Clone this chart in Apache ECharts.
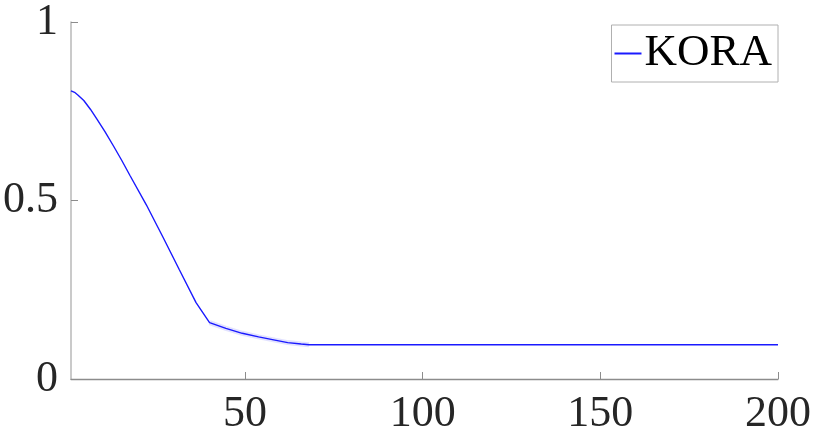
<!DOCTYPE html>
<html>
<head>
<meta charset="utf-8">
<script src="https://cdn.jsdelivr.net/npm/echarts@6/dist/echarts.min.js"></script>
<style>
  html, body { margin: 0; padding: 0; background: #fff; }
  #main { width: 814px; height: 436px; }
</style>
</head>
<body>
<div id="main"></div>
<script>
// values
const xVals = [1, 2, 3, 4.6, 6.5, 8.3, 10.6, 13, 15.3, 17.6, 22.2, 26.9, 31.5, 36.2, 40, 44.6, 49.2, 53.8, 58.4, 62, 65.8, 68, 77, 100, 150, 200];
const kora = [0.807, 0.803, 0.795, 0.780, 0.755, 0.728, 0.692, 0.652, 0.612, 0.570, 0.488, 0.397, 0.306, 0.214, 0.158, 0.142, 0.128, 0.118, 0.109, 0.102, 0.098, 0.096, 0.096, 0.096, 0.096, 0.096];
// faint spread band around the curve, only visible between 40 and 68
const bandX = [40, 44.6, 49.2, 53.8, 58.4, 62, 65.8, 68];
const bandY = [0.158, 0.142, 0.128, 0.118, 0.109, 0.102, 0.098, 0.096];

const xTicks = [50, 100, 150, 200];

const font = "'Liberation Serif', 'DejaVu Serif', serif";

const chart = echarts.init(document.getElementById("main"));

const option = {
  animation: false,
  grid: { left: 67, right: 31, top: 19.5, bottom: 51, containLabel: false },
  legend: {
    data: ["KORA"],
    right: 36,
    top: 25,
    padding: [6, 6, 6, 3],
    itemGap: 0,
    itemWidth: 27,
    itemHeight: 2,
    icon: "rect",
    borderColor: "#b0b0b0",
    borderWidth: 1,
    textStyle: { fontFamily: font, fontSize: 45, color: "#000", padding: [0, 0, 0, -2] }
  },
  xAxis: {
    type: "value",
    min: 1,
    max: 200,
    splitLine: { show: false },
    axisLine: { lineStyle: { color: "#8c8c8c", width: 1.3 } },
    axisTick: { inside: true, length: 7, customValues: xTicks, lineStyle: { color: "#8c8c8c" } },
    axisLabel: {
      customValues: xTicks,
      fontFamily: font, fontSize: 44, color: "#262626", margin: 13
    }
  },
  yAxis: {
    type: "value",
    min: 0,
    max: 1,
    interval: 0.5,
    splitLine: { show: false },
    axisLine: { show: true, lineStyle: { color: "#b8b8b8", width: 1.5 } },
    axisTick: { inside: true, length: 7, lineStyle: { color: "#8c8c8c" } },
    axisLabel: {
      fontFamily: font, fontSize: 44, color: "#262626", margin: 13,
      formatter: v => String(v)
    }
  },
  series: [
    {
      name: "band",
      type: "line",
      data: bandX.map((x, i) => [x, bandY[i]]),
      symbol: "none",
      silent: true,
      lineStyle: { color: "rgba(140,140,255,0.25)", width: 5 },
      z: 1
    },
    {
      name: "KORA",
      type: "line",
      data: xVals.map((x, i) => [x, kora[i]]),
      symbol: "none",
      lineStyle: { color: "#1a1aff", width: 1.4 },
      itemStyle: { color: "#1a1aff" },
      z: 2
    }
  ]
};

chart.setOption(option);
</script>
</body>
</html>
